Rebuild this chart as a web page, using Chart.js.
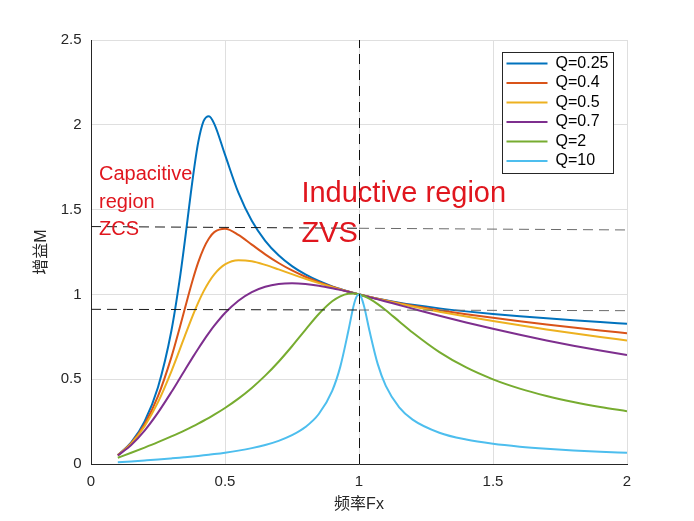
<!DOCTYPE html>
<html>
<head>
<meta charset="utf-8">
<script src="https://cdn.jsdelivr.net/npm/chart.js@4.4.1/dist/chart.umd.min.js"></script>
<style>
  html, body { margin: 0; padding: 0; background: #ffffff; }
  #wrap { width: 694px; height: 521px; }
  canvas { display: block; }
</style>
</head>
<body>
<div id="wrap"><canvas id="c" width="694" height="521"></canvas></div>
<script>
// ---------------- DATA ----------------
const fx = [0.1, 0.15, 0.2, 0.25, 0.3, 0.33, 0.35, 0.38, 0.4, 0.42, 0.44, 0.46, 0.5, 0.55, 0.6, 0.65, 0.7, 0.75, 0.8, 0.85, 0.9, 0.93, 0.96, 0.98, 0.99, 1.0, 1.01, 1.02, 1.04, 1.07, 1.1, 1.15, 1.2, 1.3, 1.4, 1.5, 1.6, 1.7, 1.8, 1.9, 2.0];

const gainQ025 = [0.0527, 0.1272, 0.2509, 0.4528, 0.7856, 1.0778, 1.313, 1.6877, 1.8962, 2.0215, 2.0508, 2.0059, 1.8238, 1.5995, 1.4338, 1.3161, 1.2307, 1.1670, 1.1178, 1.0790, 1.0476, 1.0315, 1.0171, 1.0083, 1.0041, 1.0, 0.9961, 0.9922, 0.9850, 0.9748, 0.9654, 0.9514, 0.9389, 0.9176, 0.8999, 0.8846, 0.8710, 0.8588, 0.8475, 0.8368, 0.8267];
const gainQ04 = [0.0520, 0.1232, 0.2349, 0.4000, 0.6303, 0.7977, 0.9156, 1.0875, 1.1884, 1.2704, 1.3300, 1.3673, 1.3868, 1.3513, 1.2938, 1.2363, 1.1852, 1.1414, 1.1043, 1.0725, 1.0451, 1.0304, 1.0167, 1.0082, 1.0040, 1.0, 0.9960, 0.9922, 0.9847, 0.9740, 0.9638, 0.9481, 0.9335, 0.9072, 0.8836, 0.8621, 0.8419, 0.8230, 0.8049, 0.7876, 0.7709];
const gainQ05 = [0.0514, 0.1197, 0.2225, 0.3648, 0.5468, 0.6699, 0.7541, 0.8765, 0.9513, 1.0177, 1.0736, 1.1185, 1.1765, 1.2018, 1.1954, 1.1742, 1.1473, 1.1193, 1.0922, 1.0667, 1.0428, 1.0294, 1.0164, 1.0081, 1.0040, 1.0, 0.9960, 0.9921, 0.9844, 0.9732, 0.9624, 0.9451, 0.9287, 0.8979, 0.8694, 0.8427, 0.8175, 0.7936, 0.7709, 0.7491, 0.7284];
const gainQ07 = [0.0499, 0.1119, 0.1971, 0.3030, 0.4243, 0.5014, 0.5532, 0.6301, 0.6799, 0.7277, 0.7730, 0.8153, 0.8900, 0.9630, 1.0139, 1.0455, 1.0617, 1.0661, 1.0619, 1.0515, 1.0368, 1.0266, 1.0156, 1.0079, 1.0039, 1.0, 0.9959, 0.9919, 0.9837, 0.9712, 0.9585, 0.9372, 0.9160, 0.8744, 0.8345, 0.7969, 0.7615, 0.7285, 0.6977, 0.6689, 0.6422];
const gainQ2 = [0.0366, 0.0661, 0.0969, 0.1288, 0.1625, 0.1839, 0.1987, 0.2219, 0.2381, 0.2550, 0.2725, 0.2909, 0.3304, 0.3857, 0.4487, 0.5209, 0.6030, 0.6943, 0.7911, 0.8844, 0.9593, 0.9887, 1.0036, 1.0050, 1.0033, 1.0, 0.9953, 0.9892, 0.9736, 0.9430, 0.9067, 0.8408, 0.7753, 0.6598, 0.5692, 0.4992, 0.4445, 0.4009, 0.3654, 0.3360, 0.3112];
const gainQ10 = [0.0099, 0.0152, 0.0208, 0.0266, 0.0330, 0.0370, 0.0399, 0.0444, 0.0476, 0.0510, 0.0546, 0.0583, 0.0666, 0.0788, 0.0936, 0.1122, 0.1365, 0.1697, 0.2180, 0.2948, 0.4317, 0.5727, 0.7825, 0.9338, 0.9842, 1.0, 0.9771, 0.9235, 0.7794, 0.5887, 0.4605, 0.3340, 0.2620, 0.1846, 0.1440, 0.1189, 0.1019, 0.0895, 0.0800, 0.0725, 0.0665];

const seriesLabels = ['Q=0.25', 'Q=0.4', 'Q=0.5', 'Q=0.7', 'Q=2', 'Q=10'];
const seriesValues = [gainQ025, gainQ04, gainQ05, gainQ07, gainQ2, gainQ10];

// reference (dashed) lines
const refHighX = [0, 1, 2];
const refHighY = [1.40, 1.39, 1.38];
const refLowX = [0, 1, 2];
const refLowY = [0.912, 0.908, 0.904];
const refVertX = [1, 1];
const refVertY = [0, 2.5];

const xTicks = [0, 0.5, 1, 1.5, 2];
const yTicks = [0, 0.5, 1, 1.5, 2, 2.5];
const xTitle = '频率Fx';
const yTitle = '增益M';

const capacitiveText = ['Capacitive', 'region', 'ZCS'];
const inductiveText = ['Inductive region', 'ZVS'];

// ---------------- STYLE ----------------
const FONT = "'Liberation Sans', Arial, 'Noto Sans CJK SC', sans-serif";
const seriesColors = ['#0072BD', '#D95319', '#EDB120', '#7E2F8E', '#77AC30', '#4DBEEE'];
const AX = '#262626';
const RED = '#E0161E';

const toPts = (xs, ys) => xs.map((x, i) => ({ x: x, y: ys[i] }));

const datasets = seriesLabels.map((lab, i) => ({
  label: lab,
  data: toPts(fx, seriesValues[i]),
  borderColor: seriesColors[i],
  backgroundColor: seriesColors[i],
  borderWidth: 2,
  pointRadius: 0,
  pointHoverRadius: 0,
  fill: false,
  cubicInterpolationMode: 'monotone',
  order: 10 - i
}));

const dashStyle = {
  borderWidth: 1,
  borderDash: [10, 6],
  pointRadius: 0,
  pointHoverRadius: 0,
  fill: false,
  tension: 0,
  order: 0
};
datasets.push(Object.assign({}, dashStyle, {
  label: 'refHigh', data: toPts(refHighX, refHighY), borderColor: '#1a1a1a',
  segment: { borderColor: c => c.p0DataIndex === 0 ? '#1a1a1a' : '#6a6a6a' }
}));
datasets.push(Object.assign({}, dashStyle, {
  label: 'refLow', data: toPts(refLowX, refLowY), borderColor: '#1a1a1a',
  segment: { borderColor: c => c.p0DataIndex === 0 ? '#1a1a1a' : '#6a6a6a' }
}));
datasets.push(Object.assign({}, dashStyle, {
  label: 'refVert', data: toPts(refVertX, refVertY), borderColor: '#111111', crisp: true
}));

const fmt = v => String(+Number(v).toFixed(2));

// crisp 1px vertical dashed line
const crispLine = {
  id: 'crispLine',
  beforeDatasetDraw(chart, args) {
    if (chart.data.datasets[args.index].crisp) { chart.ctx.save(); chart.ctx.translate(0.5, 0); }
  },
  afterDatasetDraw(chart, args) {
    if (chart.data.datasets[args.index].crisp) { chart.ctx.restore(); }
  }
};

// region text annotations (data coordinates)
const regionText = {
  id: 'regionText',
  afterDatasetsDraw(chart) {
    const { ctx, scales: { x, y } } = chart;
    ctx.save();
    ctx.fillStyle = RED;
    ctx.textAlign = 'left';
    ctx.textBaseline = 'alphabetic';
    ctx.font = '20px ' + FONT;
    const capY = [1.675, 1.509, 1.350];
    capacitiveText.forEach((t, i) => ctx.fillText(t, x.getPixelForValue(0.03), y.getPixelForValue(capY[i])));
    ctx.font = '29px ' + FONT;
    const indY = [1.547, 1.311];
    inductiveText.forEach((t, i) => ctx.fillText(t, x.getPixelForValue(0.785), y.getPixelForValue(indY[i])));
    ctx.restore();
  }
};

// place the library legend inside the plot, MATLAB style
const BOX = { l: 502, t: 52, w: 111, h: 121 };
const legendInside = {
  id: 'legendInside',
  afterInit(chart) {
    const lg = chart.legend;
    const i = chart.boxes.indexOf(lg);
    if (i >= 0) chart.boxes.splice(i, 1);
    lg.columnSizes = [{ width: 0, height: 0 }];
    lg.lineWidths = [0];
  },
  afterDraw(chart) {
    const ctx = chart.ctx, lg = chart.legend;
    ctx.save();
    ctx.fillStyle = '#ffffff';
    ctx.fillRect(BOX.l, BOX.t, BOX.w, BOX.h);
    ctx.strokeStyle = AX;
    ctx.lineWidth = 1;
    ctx.strokeRect(BOX.l + 0.5, BOX.t + 0.5, BOX.w, BOX.h);
    ctx.restore();
    lg.update(BOX.w, 300, { left: 0, top: 0, right: 0, bottom: 0 });
    lg.left = BOX.l + 1;
    lg.top = BOX.t;
    lg.right = lg.left + BOX.w;
    lg.bottom = lg.top + 300;
    lg.width = BOX.w;
    lg.height = 300;
    lg.draw();
  }
};

new Chart(document.getElementById('c'), {
  type: 'line',
  data: { datasets: datasets },
  options: {
    responsive: false,
    animation: false,
    events: [],
    layout: { padding: { left: 0, top: 40, right: 67, bottom: 0 } },
    plugins: {
      legend: {
        display: true,
        position: 'right',
        align: 'start',
        labels: {
          usePointStyle: true,
          pointStyle: 'line',
          pointStyleWidth: 41,
          padding: 3.5,
          color: '#000000',
          font: { size: 16, family: FONT },
          filter: item => item.datasetIndex < seriesLabels.length,
          sort: (a, b) => a.datasetIndex - b.datasetIndex
        }
      },
      tooltip: { enabled: false },
      title: { display: false }
    },
    scales: {
      x: {
        type: 'linear',
        min: xTicks[0],
        max: xTicks[xTicks.length - 1],
        afterBuildTicks: s => { s.ticks = xTicks.map(v => ({ value: v })); },
        ticks: { padding: 9, color: AX, font: { size: 15, family: FONT }, callback: fmt, maxRotation: 0 },
        grid: { color: '#dfdfdf', drawTicks: false, lineWidth: 1 },
        border: { display: true, color: AX, width: 1 },
        title: { display: true, text: xTitle, color: AX, font: { size: 16, family: FONT }, padding: { top: 0, bottom: 6.4 } },
        afterFit: s => { s.height = 57; }
      },
      y: {
        type: 'linear',
        min: yTicks[0],
        max: yTicks[yTicks.length - 1],
        afterBuildTicks: s => { s.ticks = yTicks.map(v => ({ value: v })); },
        ticks: { padding: 9.5, color: AX, font: { size: 15, family: FONT }, callback: fmt },
        grid: { color: '#dfdfdf', drawTicks: false, lineWidth: 1 },
        border: { display: true, color: AX, width: 1 },
        title: { display: true, text: yTitle, color: AX, font: { size: 16, family: FONT }, padding: { top: 32, bottom: 0 } },
        afterFit: s => { s.width = 91; }
      }
    }
  },
  plugins: [crispLine, regionText, legendInside]
});
</script>
</body>
</html>
